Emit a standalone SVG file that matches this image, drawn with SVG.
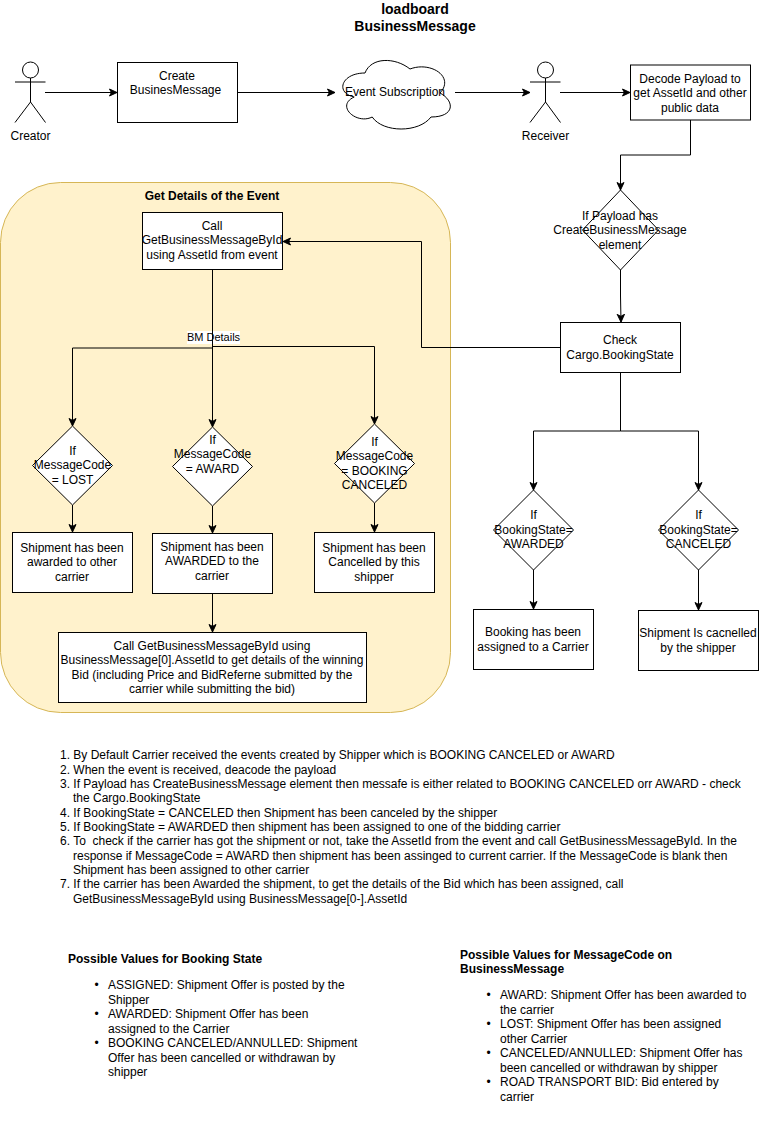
<svg xmlns="http://www.w3.org/2000/svg" width="759" height="1122" viewBox="0 0 759 1122">
<style>
text{font-family:"Liberation Sans",Arial,sans-serif;font-size:12px;fill:#000}
.c{text-anchor:middle}
.b{font-weight:bold}
.s{fill:#fff;stroke:#000;stroke-width:1}
.a{fill:none;stroke:#000;stroke-width:1}
.e{fill:none;stroke:#000;stroke-width:1;marker-end:url(#arrow)}
</style>
<defs>
<marker id="arrow" markerUnits="userSpaceOnUse" markerWidth="10" markerHeight="10" viewBox="0 0 10 10" refX="8" refY="5" orient="auto">
<path d="M0.5 1.5L8 5L0.5 8.5L2.4 5Z" fill="#000" stroke="#000"/>
</marker>
</defs>
<rect width="759" height="1122" fill="#fff"/>
<g id="title"><text class="c b" x="415" y="14" style="font-size:14px">loadboard</text><text class="c b" x="415" y="31" style="font-size:14px">BusinessMessage</text></g>
<g id="details-group"><rect x="0.5" y="182.5" width="450" height="530" rx="60" fill="#fff2cc" stroke="#d6b656"/><text class="c b" x="212" y="200">Get Details of the Event</text></g>
<g id="connectors">
<path class="e" d="M45 92.5H117"/>
<path class="e" d="M238 92.5H335"/>
<path class="e" d="M455 92.5H530"/>
<path class="e" d="M560 92.5H630"/>
<path class="e" d="M690.5 120V155H620.5V190"/>
<path class="e" d="M620.5 270V296L621 322"/>
<path class="e" d="M560.5 347.5H421.5V241.5H283"/>
<path class="e" d="M212.5 348H72.5V426"/>
<path class="e" d="M212.5 346.5H374.5V424"/>
<rect x="187" y="331" width="53" height="13" fill="#fff"/>
<path class="e" d="M212.5 270V427"/>
<path class="e" d="M72.5 505V532"/>
<path class="e" d="M212.5 506V533"/>
<path class="e" d="M374.5 503V532"/>
<path class="e" d="M212.5 594V632"/>
<path class="a" d="M620.5 372.5V431"/>
<path class="e" d="M620.5 431H533.5V490"/>
<path class="e" d="M620.5 431H698.5V490"/>
<path class="e" d="M533.5 570V609"/>
<path class="e" d="M698.5 570V610"/>
<text class="c" x="213.5" y="341" style="font-size:11px">BM Details</text>
</g>
<g id="creator"><circle class="s" cx="30.5" cy="70" r="8"/><path class="a" d="M30.5 78V102M15 82H45.5M15 122.5L30.5 102L45.5 122.5"/><text class="c" x="30.5" y="140">Creator</text></g>
<g id="create"><rect class="s" x="117.5" y="62.5" width="120" height="60"/><text class="c" x="177" y="80">Create</text><text class="c" x="175.5" y="94">BusinesMessage</text></g>
<g id="event-subscription"><path class="s" d="M365 73C341 73 335 93 354.2 97C335 105.8 356.6 125 372.2 117C383 133 419 133 431 117C455 117 455 101 440 93C455 77 431 61 410 69C395 57 371 57 365 73Z"/><text class="c" x="395" y="96">Event Subscription</text></g>
<g id="receiver"><circle class="s" cx="545.5" cy="70" r="8"/><path class="a" d="M545.5 78V102M530 82H560.5M530 122.5L545.5 102L560.5 122.5"/><text class="c" x="545.5" y="140">Receiver</text></g>
<g id="decode"><rect class="s" x="630.5" y="65" width="120" height="55"/><text class="c" x="690" y="83">Decode Payload to</text><text class="c" x="690" y="97">get AssetId and other</text><text class="c" x="690" y="112">public data</text></g>
<g id="if-payload"><path class="s" d="M620.5 190L658.5 230L620.5 270L582.5 230Z"/><text class="c" x="620" y="220">If Payload has</text><text class="c" x="620" y="234">CreateBusinessMessage</text><text class="c" x="620" y="249">element</text></g>
<g id="check-state"><rect class="s" x="560.5" y="322.5" width="120" height="50"/><text class="c" x="620" y="344">Check</text><text class="c" x="620" y="359">Cargo.BookingState</text></g>
<g id="call-get"><rect class="s" x="142.5" y="212.5" width="140" height="57"/><text class="c" x="212" y="230">Call</text><text class="c" x="212" y="244">GetBusinessMessageById</text><text class="c" x="212" y="259">using AssetId from event</text></g>
<g id="if-lost"><path class="s" d="M72.5 426L112.5 465.5L72.5 505L32.5 465.5Z"/><text class="c" x="72.5" y="455">If</text><text class="c" x="72.5" y="469">MessageCode</text><text class="c" x="72.5" y="484">= LOST</text></g>
<g id="if-award"><path class="s" d="M212.5 427L252.5 466.5L212.5 506L172.5 466.5Z"/><text class="c" x="212.5" y="444">If</text><text class="c" x="212.5" y="458">MessageCode</text><text class="c" x="212.5" y="473">= AWARD</text></g>
<g id="if-canceled"><path class="s" d="M374.5 424L414.5 463.5L374.5 503L334.5 463.5Z"/><text class="c" x="374.5" y="446">If</text><text class="c" x="374.5" y="460">MessageCode</text><text class="c" x="374.5" y="475">= BOOKING</text><text class="c" x="374.5" y="489">CANCELED</text></g>
<g id="awarded-other"><rect class="s" x="12.5" y="532.5" width="120" height="60"/><text class="c" x="72" y="552">Shipment has been</text><text class="c" x="72" y="566">awarded to other</text><text class="c" x="72" y="581">carrier</text></g>
<g id="awarded-carrier"><rect class="s" x="152.5" y="533.5" width="120" height="60"/><text class="c" x="212" y="551">Shipment has been</text><text class="c" x="212" y="565">AWARDED to the</text><text class="c" x="212" y="580">carrier</text></g>
<g id="cancelled-shipper"><rect class="s" x="314.5" y="532.5" width="120" height="60"/><text class="c" x="374" y="552">Shipment has been</text><text class="c" x="374" y="566">Cancelled by this</text><text class="c" x="374" y="581">shipper</text></g>
<g id="call-winning"><rect class="s" x="58.5" y="632.5" width="308" height="70"/><text class="c" x="212" y="650">Call GetBusinessMessageById using</text><text class="c" x="212" y="664">BusinessMessage[0].AssetId to get details of the winning</text><text class="c" x="212" y="679">Bid (including Price and BidReferne submitted by the</text><text class="c" x="212" y="693">carrier while submitting the bid)</text></g>
<g id="if-state-awarded"><path class="s" d="M533.5 490L573.5 530L533.5 570L493.5 530Z"/><text class="c" x="533.5" y="519">If</text><text class="c" x="533.5" y="534">BookingState=</text><text class="c" x="533.5" y="548">AWARDED</text></g>
<g id="if-state-canceled"><path class="s" d="M698.5 490L738.5 530L698.5 570L658.5 530Z"/><text class="c" x="698.5" y="519">If</text><text class="c" x="698.5" y="534">BookingState=</text><text class="c" x="698.5" y="548">CANCELED</text></g>
<g id="booking-assigned"><rect class="s" x="473.5" y="609.5" width="120" height="60"/><text class="c" x="533" y="636">Booking has been</text><text class="c" x="533" y="651">assigned to a Carrier</text></g>
<g id="shipment-cancelled"><rect class="s" x="638.5" y="610.5" width="120" height="60"/><text class="c" x="698" y="637">Shipment Is cacnelled</text><text class="c" x="698" y="652">by the shipper</text></g>
<g id="notes">
<text x="60" y="759">1. By Default Carrier received the events created by Shipper which is BOOKING CANCELED or AWARD</text>
<text x="60" y="774">2. When the event is received, deacode the payload</text>
<text x="60" y="788">3. If Payload has CreateBusinessMessage element then messafe is either related to BOOKING CANCELED orr AWARD - check</text>
<text x="73" y="802">the Cargo.BookingState</text>
<text x="60" y="817">4. If BookingState = CANCELED then Shipment has been canceled by the shipper</text>
<text x="60" y="831">5. If BookingState = AWARDED then shipment has been assigned to one of the bidding carrier</text>
<text x="60" y="845" style="white-space:pre">6. To  check if the carrier has got the shipment or not, take the AssetId from the event and call GetBusinessMessageById. In the</text>
<text x="73" y="860">response if MessageCode = AWARD then shipment has been assinged to current carrier. If the MessageCode is blank then</text>
<text x="73" y="874">Shipment has been assigned to other carrier</text>
<text x="60" y="888">7. If the carrier has been Awarded the shipment, to get the details of the Bid which has been assigned, call</text>
<text x="73" y="903">GetBusinessMessageById using BusinessMessage[0-].AssetId</text>
</g>
<g id="booking-values">
<text class="b" x="68" y="963">Possible Values for Booking State</text>
<text x="94.6" y="989">•</text><text x="108" y="989">ASSIGNED: Shipment Offer is posted by the</text>
<text x="108" y="1004">Shipper</text>
<text x="94.6" y="1018">•</text><text x="108" y="1018">AWARDED: Shipment Offer has been</text>
<text x="108" y="1033">assigned to the Carrier</text>
<text x="94.6" y="1047">•</text><text x="108" y="1047">BOOKING CANCELED/ANNULLED: Shipment</text>
<text x="108" y="1062">Offer has been cancelled or withdrawan by</text>
<text x="108" y="1076">shipper</text>
</g>
<g id="messagecode-values">
<text class="b" x="460" y="959">Possible Values for MessageCode on</text>
<text class="b" x="460" y="973">BusinessMessage</text>
<text x="486.6" y="999">•</text><text x="500" y="999">AWARD: Shipment Offer has been awarded to</text>
<text x="500" y="1014">the carrier</text>
<text x="486.6" y="1028">•</text><text x="500" y="1028">LOST: Shipment Offer has been assigned</text>
<text x="500" y="1043">other Carrier</text>
<text x="486.6" y="1057">•</text><text x="500" y="1057">CANCELED/ANNULLED: Shipment Offer has</text>
<text x="500" y="1072">been cancelled or withdrawan by shipper</text>
<text x="486.6" y="1086">•</text><text x="500" y="1086">ROAD TRANSPORT BID: Bid entered by</text>
<text x="500" y="1101">carrier</text>
</g>
</svg>
